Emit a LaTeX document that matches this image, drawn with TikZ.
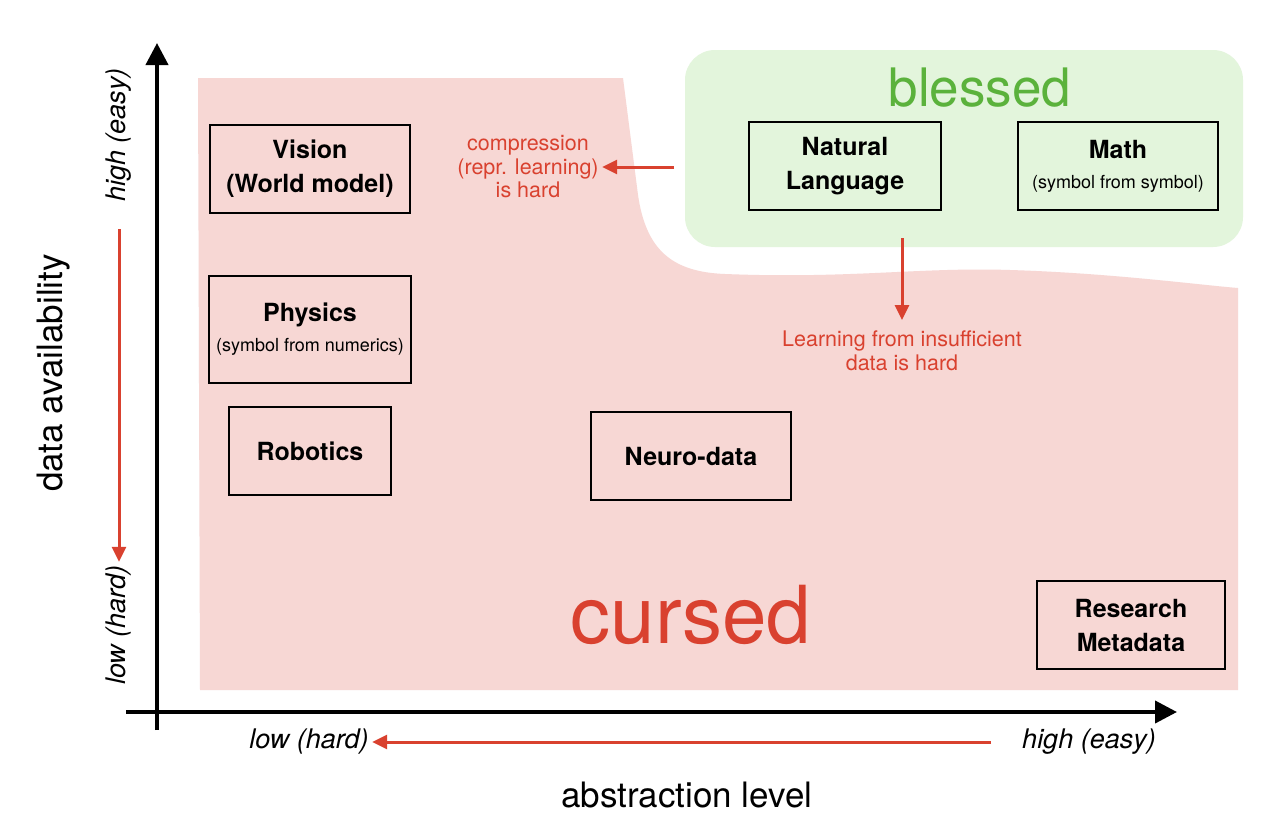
\documentclass[tikz,border=0pt]{standalone}
\usepackage{fontspec}
\setmainfont{TeX Gyre Heros}
\usetikzlibrary{arrows.meta}
\definecolor{cursedfill}{HTML}{F7D7D4}
\definecolor{blessfill}{HTML}{E3F5DC}
\definecolor{redtxt}{HTML}{D9412F}
\definecolor{greentxt}{HTML}{5BB23C}
\tikzset{
  fieldbox/.style={draw=black, line width=1.6pt, align=center, inner sep=0pt, font=\fontsize{25}{34}\selectfont\bfseries},
  redarrow/.style={draw=redtxt, line width=3pt, -{Triangle[length=15pt,width=14pt]}},
  axisarrow/.style={draw=black, line width=4pt, -{Triangle[length=22pt,width=22pt]}},
  redlabel/.style={text=redtxt, align=center, font=\fontsize{21.5}{23.5}\selectfont},
  ticklabel/.style={font=\fontsize{27}{30}\selectfont\itshape},
  axislabel/.style={font=\fontsize{35}{40}\selectfont},
}
\newcommand{\smalltxt}[1]{{\fontsize{18}{20}\selectfont\mdseries #1}}
\begin{document}
\begin{tikzpicture}[x=1pt,y=-1pt]
\useasboundingbox (0,0) rectangle (1280,822);
\fill[white] (0,0) rectangle (1280,822);
% cursed region
\fill[cursedfill] (198,78) -- (623,78) -- (638,195)
  .. controls (646,250) and (672,272) .. (725,274)
  .. controls (850,279) and (920,267) .. (1010,270)
  .. controls (1110,273) and (1200,285) .. (1238,288)
  -- (1238,690) -- (200,690) -- cycle;
% blessed region
\fill[blessfill, rounded corners=30pt] (685,50) rectangle (1243,247);
\node[text=greentxt, font=\fontsize{53}{60}\selectfont] (blessed) at (980,88) {blessed};
\node[text=redtxt, font=\fontsize{80}{90}\selectfont] (cursed) at (691,615) {cursed};
% boxes
\node[fieldbox, minimum width=200pt, minimum height=88pt] (vision) at (310,169) {Vision\\(World model)};
\node[fieldbox, minimum width=202pt, minimum height=107pt] (physics) at (310,329.5) {Physics\\[-4pt]\smalltxt{(symbol from numerics)}};
\node[fieldbox, minimum width=162pt, minimum height=88pt] (robotics) at (310,451) {Robotics};
\node[fieldbox, minimum width=200pt, minimum height=88pt] (neuro) at (691,456) {Neuro-data};
\node[fieldbox, minimum width=192pt, minimum height=88pt] (natlang) at (845,166) {Natural\\Language};
\node[fieldbox, minimum width=200pt, minimum height=88pt] (math) at (1118,166) {Math\\[-4pt]\smalltxt{(symbol from symbol)}};
\node[fieldbox, minimum width=188pt, minimum height=88pt] (research) at (1131,625) {Research\\Metadata};
% annotations
\node[redlabel] (compr) at (528,167) {compression\\(repr. learning)\\is hard};
\coordinate (comprstart) at (674,167);
\draw[redarrow] (comprstart) -- (compr.east);
\node[redlabel] (insuff) at (902,351) {Learning from insufficient\\data is hard};
\coordinate (insuffstart) at (902,238);
\draw[redarrow] (insuffstart) -- (902,320);
% axes
\coordinate (xstart) at (126,712);
\coordinate (xend) at (1177,712);
\coordinate (ystart) at (157,730);
\coordinate (yend) at (157,43);
\draw[axisarrow] (xstart) -- (xend);
\draw[axisarrow] (ystart) -- (yend);
% axis tick labels
\node[ticklabel, rotate=90] (yhigh) at (119,135) {high (easy)};
\node[ticklabel, rotate=90] (ylow) at (119,625) {low (hard)};
\coordinate (yarrowstart) at (119,229);
\draw[redarrow] (yarrowstart) -- (ylow.east);
\node[ticklabel] (xlow) at (309,742) {low (hard)};
\node[ticklabel] (xhigh) at (1089,742) {high (easy)};
\coordinate (xarrowstart) at (991,742);
\draw[redarrow] (xarrowstart) -- (xlow.east);
\node[axislabel, rotate=90] (ylabel) at (54,373) {data availability};
\node[axislabel] (xlabel) at (687,795) {abstraction level};
\end{tikzpicture}
\end{document}
